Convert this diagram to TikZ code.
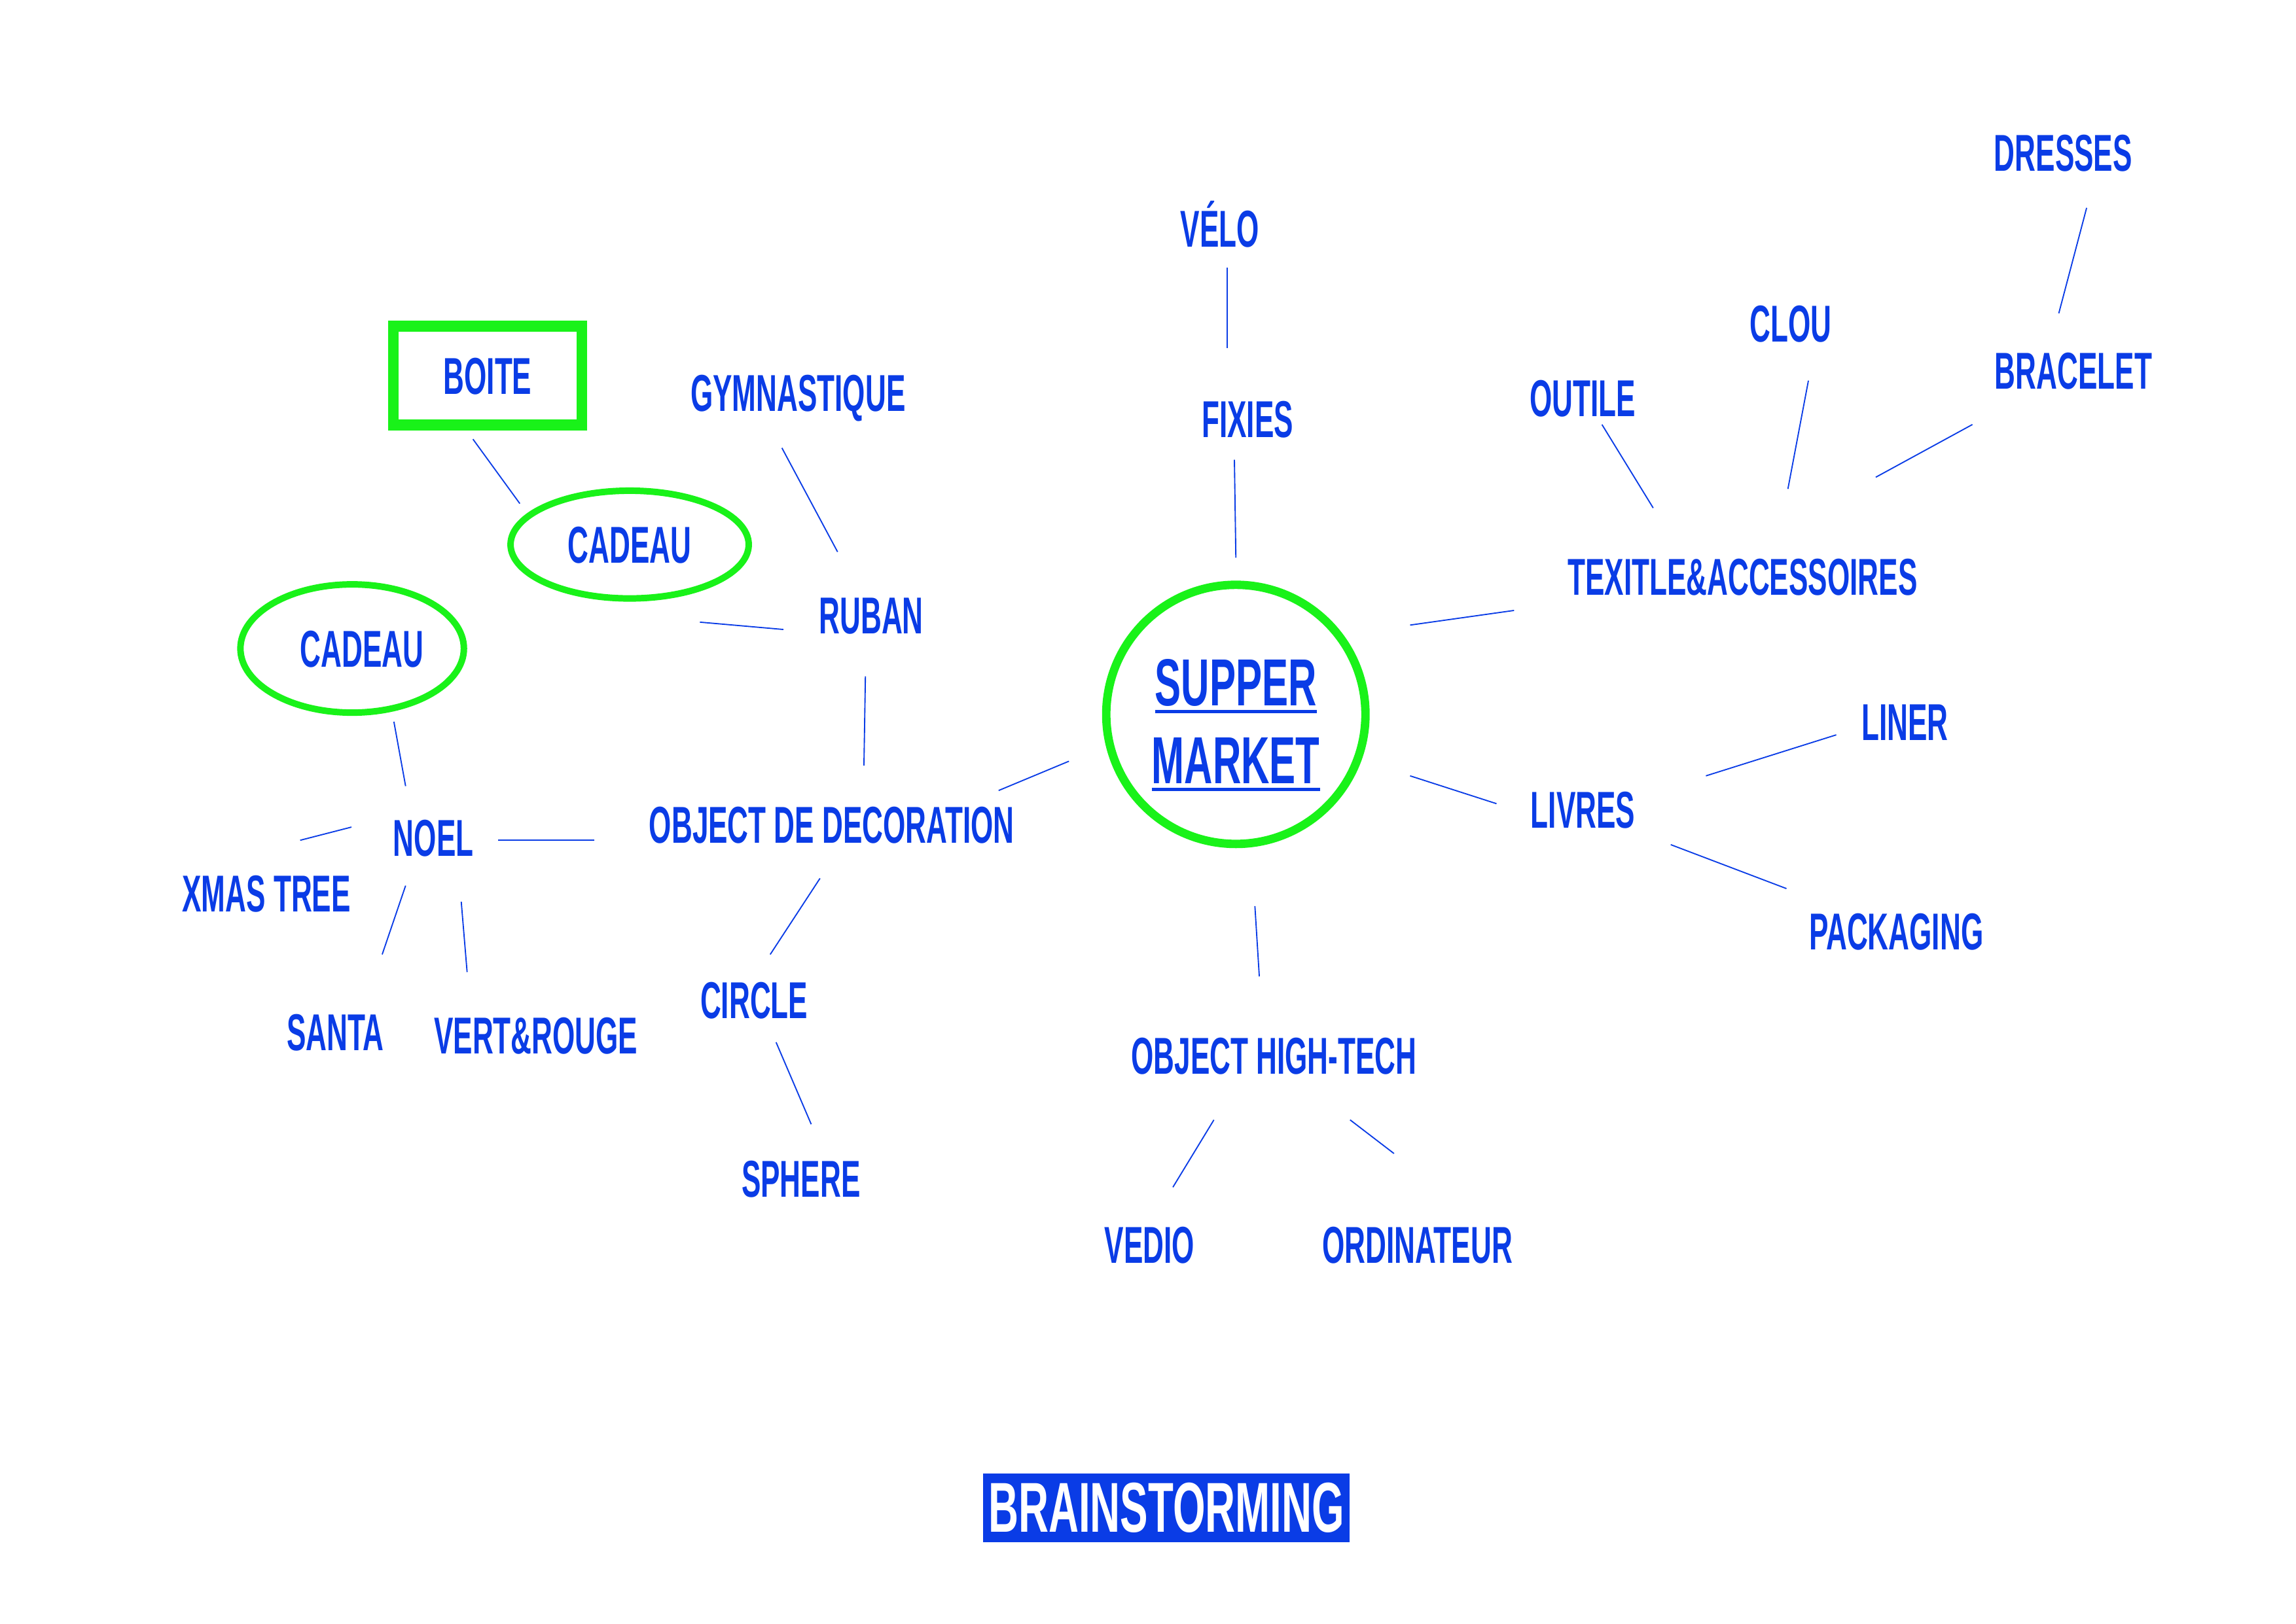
\documentclass[tikz,border=0pt]{standalone}
\usepackage{fontspec}
\usetikzlibrary{shapes.geometric}
\newfontfamily\wordfont{Liberation Sans Bold}[FakeStretch=0.556]
\newfontfamily\hubfont{Liberation Sans Bold}[FakeStretch=0.59]
\definecolor{brainblue}{RGB}{10,60,230}
\definecolor{brightgreen}{RGB}{25,242,25}
\newsavebox{\hubbox}
\newcommand{\hubline}[1]{\sbox{\hubbox}{#1}\rlap{\rule[-2.8pt]{\wd\hubbox}{1.2pt}}\usebox{\hubbox}}

\begin{document}
\begin{tikzpicture}[
    x=0.01894cm, y=-0.01894cm,
    word/.style={text=brainblue, font=\wordfont\fontsize{19.1pt}{22pt}\selectfont, inner sep=0pt, text height=13.7pt, text depth=0pt},
    greenbox/.style={word, draw=brightgreen, line width=4pt, minimum width=2.436cm, minimum height=1.28cm},
    greenoval/.style={word, ellipse, draw=brightgreen, line width=2.4pt},
    hub/.style={circle, draw=brightgreen, line width=3.1pt, minimum size=3.352cm, inner sep=0pt, text=brainblue, font=\hubfont\fontsize{24.5pt}{28.5pt}\selectfont},
    banner/.style={fill=brainblue, text=white, inner sep=0pt, minimum width=4.735cm, minimum height=0.89cm, font=\hubfont\fontsize{26pt}{30pt}\selectfont},
    link/.style={draw=brainblue, line width=0.45pt}
]
\useasboundingbox (0,0) rectangle (1568,1109);

\node[hub] (market) at (844,488) {\raisebox{0pt}[\dimexpr\height+0.38cm\relax]{\begin{tabular}{@{}c@{}}\hubline{SUPPER}\\\hubline{MARKET}\end{tabular}}};

\node[word] (dresses) at (1409,104) {DRESSES};
\node[word] (velo) at (833,156) {VÉLO};
\node[word] (clou) at (1223,221) {CLOU};
\node[word] (bracelet) at (1416,253) {BRACELET};
\node[greenbox] (boite) at (333,256.5) {BOITE};
\node[word] (gym) at (545,268) {GYMNASTIQUE};
\node[word] (outile) at (1081,272) {OUTILE};
\node[word] (fixies) at (852,286) {FIXIES};
\node[greenoval, minimum width=3.08cm, minimum height=1.394cm] (cadeauA) at (430,372) {CADEAU};
\node[word] (textile) at (1190,394) {TEXITLE\&ACCESSOIRES};
\node[word] (ruban) at (595,420) {RUBAN};
\node[greenoval, minimum width=2.89cm, minimum height=1.659cm] (cadeauB) at (240.5,443) {\hspace*{0.25cm}CADEAU};
\node[word] (liner) at (1301,493) {LINER};
\node[word] (livres) at (1081,553) {LIVRES};
\node[word] (deco) at (568,563) {OBJECT DE DECORATION};
\node[word] (noel) at (296,572) {NOEL};
\node[word] (xmas) at (182,610) {XMAS TREE};
\node[word] (packaging) at (1295,636) {PACKAGING};
\node[word] (circ) at (515,683) {CIRCLE};
\node[word] (santa) at (229,705) {SANTA};
\node[word] (vertrouge) at (366,707) {VERT\&ROUGE};
\node[word] (hightech) at (870,721) {OBJECT HIGH-TECH};
\node[word] (sphere) at (547,805) {SPHERE};
\node[word] (vedio) at (785,850) {VEDIO};
\node[word] (ordi) at (968,850) {ORDINATEUR};

\node[banner] (title) at (796.5,1030) {BRAINSTORMING};

\draw[link] ([shift={(5,27)}]velo.center) -- ([shift={(-14,-48)}]fixies.center);
\draw[link] ([shift={(-9,28)}]fixies.center) -- ([shift={(0,-107)}]market.center);
\draw[link] ([shift={(16,38)}]dresses.center) -- ([shift={(-10,-39)}]bracelet.center);
\draw[link] ([shift={(12,39)}]clou.center) -- ([shift={(31,-60)}]textile.center);
\draw[link] ([shift={(-69,37)}]bracelet.center) -- ([shift={(91,-68)}]textile.center);
\draw[link] ([shift={(13,18)}]outile.center) -- ([shift={(-61,-47)}]textile.center);
\draw[link] ([shift={(-156,23)}]textile.center) -- ([shift={(119,-61)}]market.center);
\draw[link] ([shift={(-47,9)}]liner.center) -- ([shift={(84,-23)}]livres.center);
\draw[link] ([shift={(-59,-4)}]livres.center) -- ([shift={(119,42)}]market.center);
\draw[link] ([shift={(60,24)}]livres.center) -- ([shift={(-75,-29)}]packaging.center);
\draw[link] ([shift={(13,131)}]market.center) -- ([shift={(-10,-54)}]hightech.center);
\draw[link] ([shift={(-41,44)}]hightech.center) -- ([shift={(16,-39)}]vedio.center);
\draw[link] ([shift={(52,44)}]hightech.center) -- ([shift={(-16,-62)}]ordi.center);
\draw[link] ([shift={(-114,32)}]market.center) -- ([shift={(114,-23)}]deco.center);
\draw[link] ([shift={(-4,42)}]ruban.center) -- ([shift={(22,-40)}]deco.center);
\draw[link] ([shift={(-11,38)}]gym.center) -- ([shift={(-23,-43)}]ruban.center);
\draw[link] ([shift={(-60,10)}]ruban.center) -- ([shift={(48,53)}]cadeauA.center);
\draw[link] ([shift={(-10,43.5)}]boite.center) -- ([shift={(-75,-28)}]cadeauA.center);
\draw[link] ([shift={(-162,11)}]deco.center) -- ([shift={(44,2)}]noel.center);
\draw[link] ([shift={(-8,37)}]deco.center) -- ([shift={(11,-31)}]circ.center);
\draw[link] ([shift={(15,29)}]circ.center) -- ([shift={(7,-37)}]sphere.center);
\draw[link] ([shift={(-19,-35)}]noel.center) -- ([shift={(28.5,50)}]cadeauB.center);
\draw[link] ([shift={(-56,-7)}]noel.center) -- ([shift={(23,-36)}]xmas.center);
\draw[link] ([shift={(-19,33)}]noel.center) -- ([shift={(32,-53)}]santa.center);
\draw[link] ([shift={(19,44)}]noel.center) -- ([shift={(-47,-43)}]vertrouge.center);
\end{tikzpicture}
\end{document}
